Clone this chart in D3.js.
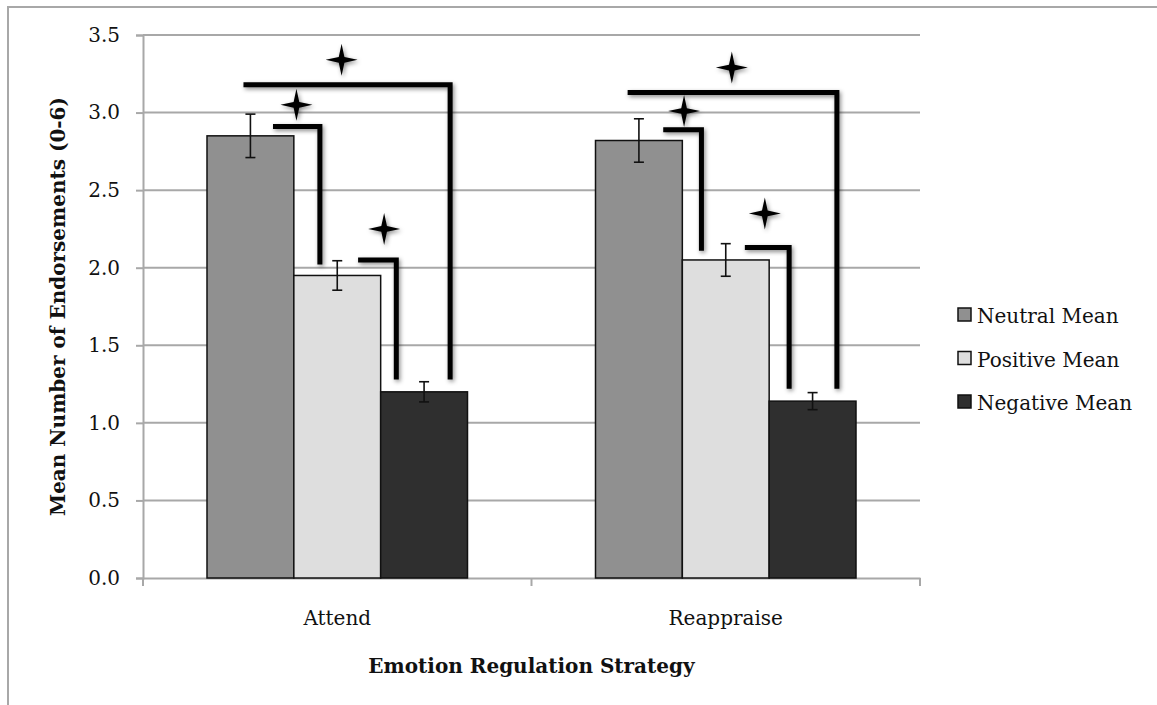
<!DOCTYPE html>
<html><head><meta charset="utf-8">
<script src="https://cdn.jsdelivr.net/npm/d3@7"></script>
<style>body{margin:0;background:#fff;}svg{display:block;}</style>
</head><body>
<script>
const categories = ["Attend", "Reappraise"];
const seriesNames = ["Neutral Mean", "Positive Mean", "Negative Mean"];
const seriesColors = ["#909090", "#dedede", "#2f2f2f"];
const neutralMean = [2.85, 2.82];
const positiveMean = [1.95, 2.05];
const negativeMean = [1.20, 1.14];
const neutralErr = [0.14, 0.14];
const positiveErr = [0.095, 0.105];
const negativeErr = [0.065, 0.055];
const yTicks = [0, 0.5, 1.0, 1.5, 2.0, 2.5, 3.0, 3.5];
// significance brackets: category, x from/to in bar units, level, drop end
const brackets = [
  {cat: 0, x0: 0.42, x1: 2.80, y: 3.18, yEnd: 1.28},
  {cat: 0, x0: 0.76, x1: 1.30, y: 2.91, yEnd: 2.02},
  {cat: 0, x0: 1.74, x1: 2.18, y: 2.05, yEnd: 1.28},
  {cat: 1, x0: 0.37, x1: 2.78, y: 3.13, yEnd: 1.22},
  {cat: 1, x0: 0.78, x1: 1.22, y: 2.89, yEnd: 2.11},
  {cat: 1, x0: 1.72, x1: 2.23, y: 2.13, yEnd: 1.22}
];
const stars = [
  {cat: 0, x: 1.55, y: 3.34}, {cat: 0, x: 1.03, y: 3.05}, {cat: 0, x: 2.04, y: 2.25},
  {cat: 1, x: 1.57, y: 3.29}, {cat: 1, x: 1.02, y: 3.01}, {cat: 1, x: 1.95, y: 2.35}
];

const W = 1157, H = 705;
const m = {left: 143, right: 237, top: 35, bottom: 127};
const svg = d3.select("body").append("svg").attr("width", W).attr("height", H);
const defs = svg.append("defs");
const f = defs.append("filter").attr("id", "sh").attr("x", "-30%").attr("y", "-30%").attr("width", "160%").attr("height", "160%");
f.append("feDropShadow").attr("dx", 1.5).attr("dy", 2).attr("stdDeviation", 2).attr("flood-color", "#000").attr("flood-opacity", 0.45);

// frame
svg.append("path").attr("d", `M8,${H} L8,7 L${W},7`).attr("fill", "none").attr("stroke", "#a8a8a8").attr("stroke-width", 2);

const x = d3.scaleBand().domain(categories).range([m.left, W - m.right]).paddingInner(0).paddingOuter(0);
const y = d3.scaleLinear().domain([0, 3.5]).range([H - m.bottom, m.top]);
const innerPad = 64;
const barW = (x.bandwidth() - 2 * innerPad) / 3;
const bx = (ci, u) => x(categories[ci]) + innerPad + u * barW;

const font = "'DejaVu Serif', serif";
// gridlines
const yAxis = d3.axisLeft(y).tickValues(yTicks).tickFormat(d3.format(".1f")).tickSize(7).tickPadding(16);
const gy = svg.append("g").attr("transform", `translate(${m.left},0)`).call(yAxis);
gy.select(".domain").attr("stroke", "#a8a8a8").attr("stroke-width", 2);
gy.selectAll(".tick line").attr("stroke", "#a8a8a8").attr("stroke-width", 2);
gy.selectAll(".tick text").attr("font-family", font).attr("font-size", 20).attr("fill", "#111");
svg.append("g").selectAll("line").data(yTicks.filter(d => d > 0)).join("line")
  .attr("x1", m.left).attr("x2", W - m.right).attr("y1", d => y(d)).attr("y2", d => y(d))
  .attr("stroke", "#a8a8a8").attr("stroke-width", 2);

const xAxis = d3.axisBottom(x).tickSize(0).tickPadding(33);
const gx = svg.append("g").attr("transform", `translate(0,${y(0)})`).call(xAxis);
gx.select(".domain").attr("stroke", "#a8a8a8").attr("stroke-width", 2);
gx.selectAll(".tick text").attr("font-family", font).attr("font-size", 20).attr("fill", "#111");
// category separators
svg.append("g").selectAll("line").data(categories.concat(["end"])).join("line")
  .attr("x1", (d, i) => m.left + i * x.bandwidth()).attr("x2", (d, i) => m.left + i * x.bandwidth())
  .attr("y1", y(0)).attr("y2", y(0) + 8).attr("stroke", "#a8a8a8").attr("stroke-width", 2);

// bars
const series = [neutralMean, positiveMean, negativeMean];
const errs = [neutralErr, positiveErr, negativeErr];
const barData = [];
categories.forEach((c, ci) => series.forEach((s, si) => barData.push({ci, si, v: s[ci], e: errs[si][ci]})));
svg.append("g").selectAll("rect").data(barData).join("rect")
  .attr("x", d => bx(d.ci, d.si)).attr("width", barW)
  .attr("y", d => y(d.v)).attr("height", d => y(0) - y(d.v))
  .attr("fill", d => seriesColors[d.si]).attr("stroke", "#111").attr("stroke-width", 1.5);
const eg = svg.append("g").attr("stroke", "#111").attr("stroke-width", 1.6);
barData.forEach(d => {
  const cx = bx(d.ci, d.si + 0.5);
  eg.append("line").attr("x1", cx).attr("x2", cx).attr("y1", y(d.v + d.e)).attr("y2", y(d.v - d.e));
  eg.append("line").attr("x1", cx - 5).attr("x2", cx + 5).attr("y1", y(d.v + d.e)).attr("y2", y(d.v + d.e));
  eg.append("line").attr("x1", cx - 5).attr("x2", cx + 5).attr("y1", y(d.v - d.e)).attr("y2", y(d.v - d.e));
});

// brackets
svg.append("g").attr("filter", "url(#sh)").selectAll("path").data(brackets).join("path")
  .attr("d", b => `M${bx(b.cat, b.x0)},${y(b.y)} L${bx(b.cat, b.x1)},${y(b.y)} L${bx(b.cat, b.x1)},${y(b.yEnd)}`)
  .attr("fill", "none").attr("stroke", "#000").attr("stroke-width", 5).attr("stroke-linejoin", "miter");

// stars
function starPath(R, r) {
  const pts = [];
  for (let i = 0; i < 8; i++) {
    const a = -Math.PI / 2 + i * Math.PI / 4;
    const rad = i % 2 === 0 ? R : r;
    pts.push([rad * Math.cos(a), rad * Math.sin(a)]);
  }
  let d = `M${pts[0][0]},${pts[0][1]}`;
  for (let i = 1; i <= 8; i++) {
    const p = pts[i % 8];
    d += ` L${p[0]},${p[1]}`;
  }
  return d + "Z";
}
svg.append("g").attr("filter", "url(#sh)").selectAll("path").data(stars).join("path")
  .attr("transform", s => `translate(${bx(s.cat, s.x)},${y(s.y)})`)
  .attr("d", starPath(16, 4)).attr("fill", "#000");

// axis titles
svg.append("text").attr("transform", `translate(65,${(y(0) + y(3.5)) / 2}) rotate(-90)`)
  .attr("text-anchor", "middle").attr("font-family", font).attr("font-weight", "bold").attr("font-size", 20)
  .attr("fill", "#111").text("Mean Number of Endorsements (0-6)");
svg.append("text").attr("x", (m.left + W - m.right) / 2).attr("y", 673)
  .attr("text-anchor", "middle").attr("font-family", font).attr("font-weight", "bold").attr("font-size", 20)
  .attr("fill", "#111").text("Emotion Regulation Strategy");

// legend
const lg = svg.append("g").attr("transform", "translate(958,308)");
seriesNames.forEach((n, i) => {
  const g = lg.append("g").attr("transform", `translate(0,${i * 43.5})`);
  g.append("rect").attr("width", 13).attr("height", 13).attr("fill", seriesColors[i]).attr("stroke", "#111").attr("stroke-width", 1.5);
  g.append("text").attr("x", 19).attr("y", 15).attr("font-family", font).attr("font-size", 20).attr("fill", "#111").text(n);
});
</script>
</body></html>
